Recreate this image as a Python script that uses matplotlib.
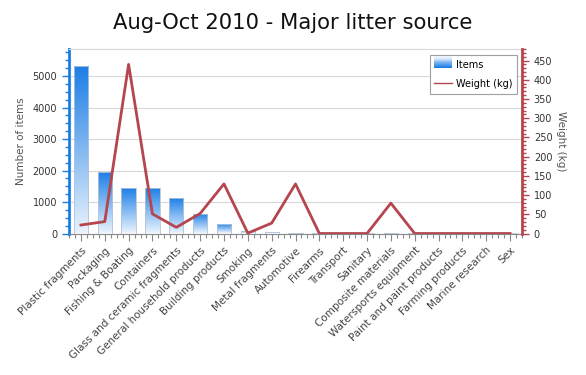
import numpy as np
import matplotlib
matplotlib.use("Agg")
import matplotlib.pyplot as plt
from matplotlib.ticker import AutoMinorLocator, MultipleLocator
from matplotlib.patches import Rectangle
from matplotlib.lines import Line2D
from matplotlib.legend_handler import HandlerBase
from matplotlib.colors import LinearSegmentedColormap

categories = ["Plastic fragments", "Packaging", "Fishing & Boating", "Containers",
              "Glass and ceramic fragments", "General household products",
              "Building products", "Smoking", "Metal fragments", "Automotive",
              "Firearms", "Transport", "Sanitary", "Composite materials",
              "Watersports equipment", "Paint and paint products",
              "Farming products", "Marine research", "Sex"]
items = [5320, 1960, 1450, 1450, 1135, 630, 290, 85, 55, 25,
         12, 8, 8, 5, 3, 2, 2, 1, 1]
weight = [22, 31, 440, 51, 16, 52, 129, 1, 27, 129,
          0, 0, 0, 79, 0, 0, 0, 0, 0]

plt.rcParams['font.family'] = ['DejaVu Sans']

fig = plt.figure(figsize=(5.86, 3.75), dpi=100)
ax = fig.add_axes([69/586, 1-233.5/375, (522-69)/586, (233.5-49)/375])
ax2 = ax.twinx()

cmap = LinearSegmentedColormap.from_list("g", ["#eaf3fd", "#1a7de6"])
grad = np.linspace(0, 1, 256).reshape(-1, 1)
x = np.arange(len(categories))
width = 0.6
bars = ax.bar(x, items, width=width, color='none', edgecolor='#b4c4d4', linewidth=0.6, zorder=2)
for b in bars:
    h = b.get_height()
    if h <= 0:
        continue
    x0 = b.get_x()
    im = ax.imshow(grad, cmap=cmap, origin='lower', aspect='auto',
                   extent=[x0, x0 + b.get_width(), 0, h], zorder=1.5)
    im.set_clip_path(b)

ax.set_xlim(-0.5, len(categories) - 0.5)
ax.set_ylim(0, 5860)
ax2.set_ylim(0, 480)

ax2.plot(x, weight, color='#b5454e', linewidth=2, zorder=3)

ax.yaxis.set_major_locator(MultipleLocator(1000))
ax.yaxis.set_minor_locator(AutoMinorLocator(4))
ax.grid(axis='y', color='#d8d8d8', linewidth=0.8, zorder=0)
ax.set_axisbelow(True)

ax2.yaxis.set_major_locator(MultipleLocator(50))
ax2.yaxis.set_minor_locator(AutoMinorLocator(5))

ax.set_xticks(x)
ax.set_xticklabels(categories, rotation=45, ha='right', rotation_mode='anchor',
                   fontsize=7.5, color='#444444')
ax.xaxis.set_minor_locator(AutoMinorLocator(4))

ax.spines['top'].set_color('#d8d8d8')
ax2.spines['top'].set_visible(False)
ax.spines['right'].set_visible(False)
ax.spines['left'].set_color('#1c7ee0')
ax.spines['left'].set_linewidth(2)
ax.spines['bottom'].set_color('#888888')
ax2.spines['left'].set_visible(False)
ax2.spines['bottom'].set_visible(False)
ax2.spines['right'].set_color('#b5454e')
ax2.spines['right'].set_linewidth(2)

ax.tick_params(axis='y', which='major', length=5, width=1, color='#1c7ee0',
               labelsize=7, labelcolor='#333333')
ax.tick_params(axis='y', which='minor', length=3, width=1, color='#1c7ee0')
ax.tick_params(axis='x', which='major', length=5, width=0.8, color='#888888')
ax.tick_params(axis='x', which='minor', length=3, width=0.8, color='#888888')
ax2.tick_params(axis='y', which='major', length=5, width=1, color='#b5454e',
                labelsize=7, labelcolor='#333333')
ax2.tick_params(axis='y', which='minor', length=3, width=1, color='#b5454e')

ax.set_ylabel("Number of items", fontsize=7.5, color='#555555', labelpad=5)
ax2.set_ylabel("Weight (kg)", fontsize=7.5, color='#555555', rotation=270, labelpad=10)

fig.text(0.5, 1 - 23/375, "Aug-Oct 2010 - Major litter source", ha='center', va='center',
         fontsize=15.2, color='#111111')


class GradHandler(HandlerBase):
    def create_artists(self, legend, orig_handle, xdescent, ydescent, width, height, fontsize, trans):
        arts = []
        n = 12
        for i in range(n):
            c = cmap(1 - i / (n - 1))
            r = Rectangle((0, i * height / n), width, height / n + 0.3,
                          facecolor=c, edgecolor='none', transform=trans)
            arts.append(r)
        return arts


grad_handle = Rectangle((0, 0), 1, 1)
line_handle = Line2D([0], [0], color='#b5454e', linewidth=1)
leg = ax2.legend([grad_handle, line_handle], ["Items", "Weight (kg)"],
                 handler_map={Rectangle: GradHandler()},
                 loc='upper right', bbox_to_anchor=(0.988, 0.968), borderaxespad=0,
                 fontsize=7, fancybox=False, framealpha=1, edgecolor='#a0a0a0',
                 handlelength=1.8, handleheight=1.5, borderpad=0.45, labelspacing=0.7,
                 handletextpad=0.4)
leg.get_frame().set_linewidth(0.8)

fig.savefig("out.png", dpi=100)
